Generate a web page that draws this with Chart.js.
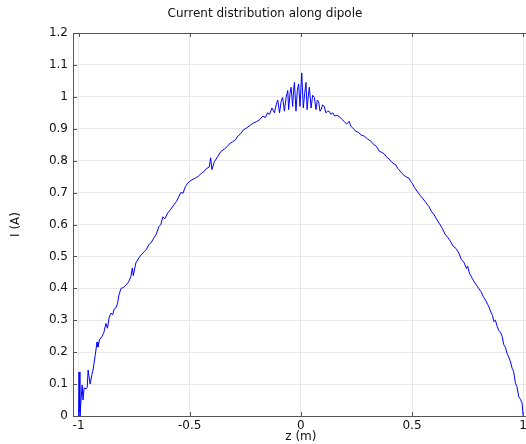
<!DOCTYPE html>
<html>
<head>
<meta charset="utf-8">
<script src="https://cdn.jsdelivr.net/npm/chart.js@4.4.1/dist/chart.umd.min.js"></script>
<style>
    body { margin: 0; overflow: hidden; background: #fff; }
    #wrap { width: 530px; height: 444px; }
</style>
</head>
<body>
<div id="wrap"><canvas id="grafico"></canvas></div>
<script>
// z positions along the dipole (m)
const zPos = [
    -1.000, -0.998, -0.994, -0.984, -0.980, -0.975, -0.966, -0.961, -0.957, -0.948,
    -0.940, -0.935, -0.925, -0.917, -0.913, -0.905, -0.895, -0.886, -0.877, -0.870,
    -0.862, -0.854, -0.846, -0.840, -0.832, -0.825, -0.818, -0.809, -0.800, -0.787,
    -0.775, -0.765, -0.758, -0.754, -0.742, -0.729, -0.718, -0.706, -0.695, -0.684,
    -0.672, -0.661, -0.650, -0.639, -0.630, -0.621, -0.612, -0.599, -0.585, -0.572,
    -0.560, -0.549, -0.540, -0.530, -0.520, -0.509, -0.495, -0.484, -0.473, -0.460,
    -0.448, -0.437, -0.425, -0.412, -0.406, -0.400, -0.390, -0.375, -0.361, -0.345,
    -0.330, -0.318, -0.307, -0.295, -0.282, -0.270, -0.258, -0.245, -0.230, -0.213,
    -0.200, -0.186, -0.171, -0.160, -0.150, -0.141, -0.130, -0.119, -0.111, -0.104,
    -0.096, -0.089, -0.082, -0.074, -0.066, -0.059, -0.055, -0.049, -0.044, -0.037,
    -0.033, -0.029, -0.022, -0.016, -0.010, -0.004, 0.004, 0.011, 0.017, 0.023,
    0.028, 0.033, 0.038, 0.046, 0.053, 0.061, 0.068, 0.074, 0.080, 0.086,
    0.091, 0.098, 0.105, 0.112, 0.120, 0.128, 0.135, 0.143, 0.152, 0.162,
    0.173, 0.184, 0.195, 0.205, 0.210, 0.217, 0.225, 0.236, 0.248, 0.260,
    0.272, 0.285, 0.300, 0.315, 0.328, 0.340, 0.352, 0.363, 0.374, 0.385,
    0.397, 0.408, 0.419, 0.427, 0.435, 0.442, 0.452, 0.464, 0.476, 0.487,
    0.494, 0.501, 0.512, 0.525, 0.538, 0.550, 0.563, 0.576, 0.588, 0.600,
    0.612, 0.624, 0.636, 0.648, 0.660, 0.672, 0.685, 0.698, 0.711, 0.722,
    0.733, 0.745, 0.750, 0.758, 0.770, 0.780, 0.790, 0.800, 0.810, 0.820,
    0.830, 0.840, 0.848, 0.855, 0.862, 0.868, 0.875, 0.883, 0.890, 0.898,
    0.905, 0.913, 0.920, 0.927, 0.935, 0.942, 0.950, 0.957, 0.965, 0.972,
    0.980, 0.988, 0.995, 1.000
];

// current I (A) at each z
const corrente = [
    0.000, 0.138, 0.000, 0.097, 0.050, 0.088, 0.085, 0.090, 0.144, 0.100,
    0.130, 0.144, 0.190, 0.232, 0.216, 0.240, 0.248, 0.262, 0.290, 0.275,
    0.310, 0.322, 0.318, 0.335, 0.339, 0.352, 0.380, 0.400, 0.402, 0.410,
    0.420, 0.436, 0.464, 0.440, 0.480, 0.495, 0.505, 0.514, 0.522, 0.536,
    0.545, 0.558, 0.570, 0.593, 0.600, 0.624, 0.618, 0.636, 0.648, 0.661,
    0.672, 0.687, 0.700, 0.698, 0.718, 0.730, 0.738, 0.742, 0.746, 0.752,
    0.760, 0.765, 0.775, 0.780, 0.809, 0.772, 0.795, 0.812, 0.828, 0.836,
    0.845, 0.855, 0.859, 0.865, 0.878, 0.885, 0.897, 0.902, 0.910, 0.918,
    0.922, 0.928, 0.940, 0.935, 0.950, 0.945, 0.965, 0.950, 0.975, 0.990,
    0.950, 0.985, 0.998, 0.955, 1.000, 1.020, 0.960, 1.010, 1.030, 0.970,
    1.020, 1.045, 0.955, 1.020, 1.040, 0.970, 1.075, 0.965, 1.010, 1.045,
    0.960, 1.000, 1.030, 0.965, 1.005, 0.998, 0.960, 0.990, 0.985, 0.955,
    0.960, 0.975, 0.970, 0.950, 0.955, 0.954, 0.945, 0.950, 0.940, 0.942,
    0.938, 0.930, 0.923, 0.915, 0.917, 0.923, 0.908, 0.900, 0.892, 0.888,
    0.880, 0.877, 0.868, 0.861, 0.850, 0.845, 0.830, 0.826, 0.822, 0.812,
    0.805, 0.796, 0.790, 0.787, 0.776, 0.771, 0.762, 0.754, 0.748, 0.745,
    0.735, 0.729, 0.715, 0.702, 0.690, 0.680, 0.668, 0.656, 0.640, 0.630,
    0.615, 0.602, 0.588, 0.570, 0.560, 0.548, 0.532, 0.525, 0.510, 0.490,
    0.482, 0.462, 0.470, 0.448, 0.432, 0.420, 0.410, 0.400, 0.390, 0.375,
    0.364, 0.350, 0.338, 0.325, 0.315, 0.296, 0.300, 0.281, 0.268, 0.262,
    0.250, 0.223, 0.215, 0.197, 0.185, 0.172, 0.150, 0.140, 0.103, 0.092,
    0.060, 0.052, 0.040, 0.000
];

const xTicks = [-1, -0.5, 0, 0.5, 1];
const yTicks = [0, 0.1, 0.2, 0.3, 0.4, 0.5, 0.6, 0.7, 0.8, 0.9, 1, 1.1, 1.2];

const fonte = { family: 'DejaVu Sans', size: 12 };

// frame around the plot with small inward ticks
const moldura = {
    id: 'moldura',
    afterDraw(chart) {
        const { ctx, chartArea: a, scales } = chart;
        ctx.save();
        ctx.strokeStyle = '#555';
        ctx.lineWidth = 1;
        ctx.strokeRect(a.left + 0.5, a.top + 0.5, a.right - a.left, a.bottom - a.top);
        ctx.beginPath();
        xTicks.forEach(v => {
            const x = Math.round(scales.x.getPixelForValue(v)) + 0.5;
            ctx.moveTo(x, a.top); ctx.lineTo(x, a.top + 4);
            ctx.moveTo(x, a.bottom); ctx.lineTo(x, a.bottom - 4);
        });
        yTicks.forEach(v => {
            const y = Math.round(scales.y.getPixelForValue(v)) + 0.5;
            ctx.moveTo(a.left, y); ctx.lineTo(a.left + 4, y);
        });
        ctx.stroke();
        ctx.restore();
    }
};

new Chart(document.getElementById('grafico'), {
    type: 'line',
    data: {
        datasets: [{
            data: zPos.map((z, i) => ({ x: z, y: corrente[i] })),
            borderColor: '#0000ff',
            borderWidth: 1,
            pointRadius: 0,
            tension: 0,
            fill: false
        }]
    },
    options: {
        responsive: true,
        maintainAspectRatio: false,
        animation: false,
        layout: { padding: 0 },
        plugins: {
            legend: { display: false },
            tooltip: { enabled: false },
            title: {
                display: true,
                text: 'Current distribution along dipole',
                color: '#111',
                font: { family: 'DejaVu Sans', size: 12, weight: 'normal' },
                padding: { top: 7, bottom: 11.6 }
            }
        },
        scales: {
            x: {
                type: 'linear',
                min: -1.025,
                max: 1.025,
                afterBuildTicks: s => { s.ticks = xTicks.map(v => ({ value: v })); },
                afterFit: s => { s.height = 28; },
                grid: { color: '#e8e8e8', drawTicks: false },
                border: { display: false },
                ticks: {
                    color: '#111',
                    font: fonte,
                    padding: 3,
                    maxRotation: 0,
                    callback: v => String(v)
                },
                title: {
                    display: true,
                    text: 'z (m)',
                    color: '#111',
                    font: fonte,
                    padding: { top: 0, bottom: 0 }
                }
            },
            y: {
                min: 0,
                max: 1.2,
                afterBuildTicks: s => { s.ticks = yTicks.map(v => ({ value: v })); },
                afterFit: s => { s.width = 73; },
                grid: { color: '#e8e8e8', drawTicks: false },
                border: { display: false },
                ticks: {
                    color: '#111',
                    font: fonte,
                    padding: 5,
                    callback: v => String(Math.round(v * 10) / 10)
                },
                title: {
                    display: true,
                    text: 'I (A)',
                    color: '#111',
                    font: fonte,
                    padding: { top: 9, bottom: 0 }
                }
            }
        }
    },
    plugins: [moldura]
});
</script>
</body>
</html>
